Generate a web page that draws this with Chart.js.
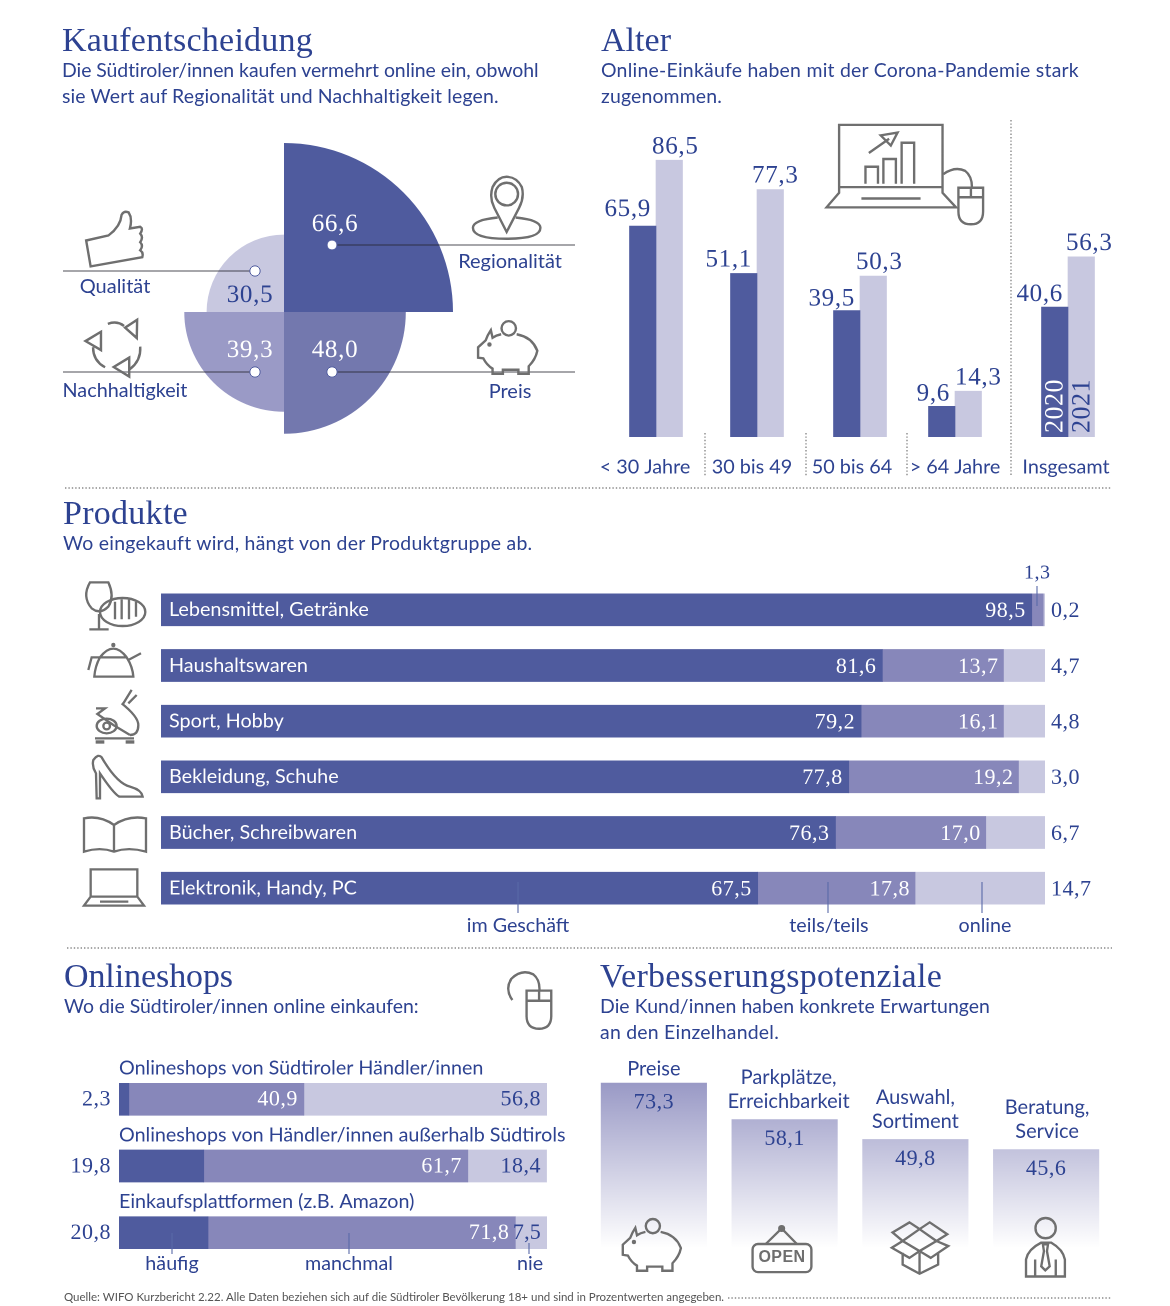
<!DOCTYPE html>
<html lang="de"><head><meta charset="utf-8">
<script src="https://cdn.jsdelivr.net/npm/chart.js@4"></script>
<style>
html,body{margin:0;padding:0;background:#fff}
#page{position:relative;width:1170px;height:1306px;overflow:hidden;background:#fff}
canvas{position:absolute}
#ov{position:absolute;left:0;top:0;width:1170px;height:1306px}
.t{position:absolute;white-space:nowrap;line-height:1;color:#2d4291;font-family:Lato,sans-serif;font-size:20px;transform:translateY(-50%)}
.h{font-family:"Liberation Serif",serif;font-size:34px}
.s{font-size:19.45px}
</style></head><body>
<div id="page">
<svg id="ov" viewBox="0 0 1170 1306" fill="none" stroke="#6f6f6f" stroke-linejoin="miter">
<defs>
<g id="pig" stroke-width="7">
<path d="M1310 622Q1295 625 1285 632L1280 610Q1270 625 1265 640L1243 660L1243 690L1258 692Q1268 712 1285 722L1285 737L1315 737L1315 725L1360 725L1360 737L1390 737L1390 715Q1410 695 1415 670Q1400 630 1355 622"/>
<circle cx="1332" cy="605" r="21"/><circle cx="1276" cy="652" r="3" fill="#6f6f6f"/>
</g>
</defs>
<!-- separators -->
<g stroke="#8a8a8a" stroke-width="1.4" stroke-dasharray="1.4 2">
<path d="M65 488H1112M67 948H1112M728 1298H1112M705 433V477M806 433V477M907 433V477M1011 120V477"/>
</g>
<!-- leader lines -->
<g stroke="rgba(40,40,50,.55)" stroke-width="1.3">
<path d="M332 245H575M63 271H255M63 372H255M332 372H575"/>
</g>
<g fill="#fff" stroke="#4f5b9e" stroke-width="1"><circle cx="332" cy="245" r="5"/><circle cx="255" cy="271" r="5.2"/><circle cx="255" cy="372" r="5.2"/><circle cx="332" cy="372" r="5.2"/></g>
<g stroke="#5a6aa8" stroke-width="1.1"><path d="M1037 586V606M518 882V913M828 882V913M982 882V913M172 1233V1254M349 1233V1254M529 1243V1254"/></g>
<!-- icons Kaufentscheidung -->
<g transform="translate(50,120) scale(.3444)" stroke-width="7">
<path d="M105 350L118 425L268 398Q272 385 262 378Q272 365 262 355Q272 340 262 330Q272 315 262 310L232 315Q240 285 228 268Q215 262 208 275Q205 310 170 335Z"/>
<path d="M253 580L218 603L252 633ZM168 592Q195 582 215 598M148 615L103 642L148 668ZM160 718Q125 700 125 660M230 690L185 717L230 745ZM262 658Q265 700 230 725"/>
<path d="M1326 325L1290 255Q1275 225 1285 195Q1300 165 1326 165Q1355 165 1370 195Q1378 225 1362 255Z"/><circle cx="1326" cy="215" r="33"/>
<path d="M1300 283Q1228 290 1228 313Q1228 345 1326 345Q1424 345 1424 313Q1424 290 1352 283"/>
<use href="#pig"/>
</g>
<!-- icon Alter -->
<g transform="translate(590,110) scale(.338)" stroke-width="7">
<path d="M737 228V44H1043V228ZM737 228V245L700 288H1083L1043 245V228M803 262H978M815 218V168H852V218M868 218V145H905V218M922 218V97H959V218M825 127L885 85M860 75L910 67L890 105Z"/>
<path d="M1045 190Q1080 165 1110 180Q1130 195 1130 228M1090 230H1163V300Q1163 338 1127 338Q1090 338 1090 300ZM1090 258H1163M1127 230V258"/>
</g>
<!-- icons Produkte -->
<g transform="translate(60,560) scale(.3333)" stroke-width="7">
<path d="M90 67H145Q165 110 145 140Q120 165 95 145Q65 110 90 67ZM117 162V208M88 208H146"/><ellipse cx="188" cy="156" rx="68" ry="42"/><path d="M165 125V178M185 118V178M207 118V178M228 125V170"/>
<circle cx="160" cy="255" r="3" fill="#6f6f6f"/><path d="M120 292Q160 240 200 292M120 292H200Q218 320 220 350H103Q105 320 120 292ZM120 292H95L85 330M205 300L243 280"/>
<path d="M108 445H135L112 462L160 495L210 525M185 430Q235 470 235 495Q235 525 210 525M190 430L215 390M205 430L230 405M105 535H222"/><ellipse cx="140" cy="498" rx="30" ry="22"/><circle cx="140" cy="498" r="10"/><rect x="107" y="541" width="26" height="10" fill="#6f6f6f" stroke="none"/><rect x="197" y="541" width="26" height="10" fill="#6f6f6f" stroke="none"/>
<path d="M100 600Q115 580 125 592Q170 670 210 680Q245 690 248 710H178Q160 700 120 640V715H110L108 640Q95 620 100 600Z"/>
<path d="M162 795Q120 765 72 775V875Q120 860 162 875Q205 860 258 875V775Q205 765 162 795V875"/>
<path d="M92 1010V928H232V1010ZM92 1010L72 1037H252L232 1010M120 1025H205"/>
</g>
<!-- mouse Onlineshops -->
<g transform="translate(50,950) scale(.338)" stroke-width="7">
<path d="M1368 148Q1345 115 1365 85Q1395 55 1430 72Q1450 88 1448 120M1410 120H1483V195Q1483 233 1447 233Q1410 233 1410 195ZM1410 150H1483M1447 120V150"/>
</g>
<!-- icons Verbesserung -->
<g transform="translate(590,1050) scale(.338)" stroke-width="7">
<use href="#pig" transform="translate(-1146,-84)"/>
<rect x="481" y="574" width="174" height="83" rx="16"/><path d="M520 574L567 528L612 574"/><circle cx="567" cy="528" r="7" fill="#6f6f6f"/>
<path d="M925 600V635L975 662L1030 635V600M975 600V662M895 540L945 510L975 530L925 565ZM975 530L1005 510L1057 545L1025 565ZM925 565L893 585L945 615L975 595L1008 615L1060 580L1025 565M925 565L975 595L1025 565"/>
<circle cx="1348" cy="527" r="30"/><path d="M1290 670V620Q1295 590 1335 570H1365Q1400 590 1405 620V670ZM1317 620V670M1378 620V670M1340 575H1355L1352 595L1360 640L1347 652L1335 640L1343 595Z"/>
</g>
</svg>
</div>
<script>
/* ---------- data ---------- */
const decisionLabels = ['Regionalität','Preis','Nachhaltigkeit','Qualität'];
const decisionValues = [66.6,48.0,39.3,30.5];
const decisionColors = ['#4f5b9e','#7378ae','#9a9ac6','#c8c8e0'];

const ageLabels = ['< 30 Jahre','30 bis 49','50 bis 64','> 64 Jahre','Insgesamt'];
const age2020 = [65.9,51.1,39.5,9.6,40.6];
const age2021 = [86.5,77.3,50.3,14.3,56.3];

const productLabels = ['Lebensmittel, Getränke','Haushaltswaren','Sport, Hobby','Bekleidung, Schuhe','Bücher, Schreibwaren','Elektronik, Handy, PC'];
const productStore = [98.5,81.6,79.2,77.8,76.3,67.5];
const productMixed = [1.3,13.7,16.1,19.2,17.0,17.8];
const productOnline = [0.2,4.7,4.8,3.0,6.7,14.7];

const shopLabels = ['Onlineshops von Südtiroler Händler/innen','Onlineshops von Händler/innen außerhalb Südtirols','Einkaufsplattformen (z.B. Amazon)'];
const shopOften = [2.3,19.8,20.8];
const shopSometimes = [40.9,61.7,71.8];
const shopNever = [56.8,18.4,7.5];

const improveLabels = [['Preise'],['Parkplätze,','Erreichbarkeit'],['Auswahl,','Sortiment'],['Beratung,','Service']];
const improveValues = [73.3,58.1,49.8,45.6];

/* ---------- helpers ---------- */
const DARK='#4f5b9e', MID='#8787ba', LIGHT='#c8c8e0', BLUE='#2d4291';
const SERIF='"Liberation Serif",serif', SANS='Lato,sans-serif';
const page=document.getElementById('page');
const fmt=v=>v.toFixed(1).replace('.',',');
function T(text,x,y,o={}){
  const d=document.createElement('div');
  d.className='t '+(o.cls||'');
  d.textContent=text;
  d.style.left=x+'px';d.style.top=(y-(o.cls==='h'?0:.5))+'px';
  if(o.center)d.style.transform='translate(-50%,-50%)';
  if(o.size)d.style.fontSize=o.size+'px';
  if(o.color)d.style.color=o.color;
  if(o.spacing!==undefined)d.style.letterSpacing=o.spacing+'px';
  if(o.font)d.style.fontFamily=o.font;
  if(o.weight)d.style.fontWeight=o.weight;
  page.appendChild(d);
  if(o.w){ /* fit the line to the width */
    const now=d.getBoundingClientRect().width;
    d.style.letterSpacing=((o.w-now)/text.length).toFixed(3)+'px';
  }
}
function txt(c,s,x,y,{size=22,fam=SERIF,color=BLUE,align='left',spacing=.5,rot=0}={}){
  c.save();
  c.font=size+'px '+fam;c.fillStyle=color;c.textAlign=align;c.textBaseline='middle';
  c.letterSpacing=spacing+'px';
  c.translate(x,y+(fam===SERIF&&!rot?1.5:0));if(rot)c.rotate(rot);
  c.fillText(s,0,0);c.restore();
}
function mk(left,top,w,h,cfg){
  const cv=document.createElement('canvas');
  cv.style.left=left+'px';cv.style.top=top+'px';
  cv.style.width=w+'px';cv.style.height=h+'px';cv.width=w;cv.height=h;
  page.insertBefore(cv,document.getElementById('ov'));
  cfg.options=Object.assign({responsive:false,animation:false,devicePixelRatio:2,
    plugins:{legend:{display:false},tooltip:{enabled:false}}},cfg.options);
  return new Chart(cv,cfg);
}

/* ---------- Kaufentscheidung (polar) ---------- */
mk(115,143,338,338,{type:'polarArea',
  data:{labels:decisionLabels,datasets:[{data:decisionValues,backgroundColor:decisionColors,borderWidth:0}]},
  options:{scales:{r:{display:false,min:0,max:66.6}}},
  plugins:[{id:'polarLabels',afterDatasetsDraw(ch){
    const m=ch.getDatasetMeta(0),c=ch.ctx;
    const off=[[51,-89,'#fff'],[51,37,'#fff'],[-34,37,'#fff'],[-34,-18,BLUE]];
    m.data.forEach((a,i)=>txt(c,fmt(decisionValues[i]),a.x+off[i][0],a.y+off[i][1],{size:25,align:'center',color:off[i][2],spacing:.7}));
  }}]});

/* ---------- Alter (bars) ---------- */
const ageCenters=[656,756.5,860,954.5,1068];
const ageTickShift=[-11,-5,-8,0,-2];
const age2021Shift=[-1,-2,-1,3,1];
const age2020Lift=[18,15,13,14,14];
ageLabels.forEach((lab,i)=>{
  mk(ageCenters[i]-120,117,240,370,{type:'bar',
    data:{labels:[lab],datasets:[
      {label:'2020',data:[age2020[i]],backgroundColor:DARK,barThickness:26.5},
      {label:'2021',data:[age2021[i]],backgroundColor:LIGHT,barThickness:26.5}]},
    options:{layout:{padding:0},scales:{
      y:{display:false,min:0,max:100},
      x:{grid:{display:false,drawTicks:false},border:{display:false},
         afterFit(s){s.height=50},
         ticks:{color:BLUE,font:{family:'Lato',size:19.8},padding:18,labelOffset:ageTickShift[i],maxRotation:0,autoSkip:false}}}},
    plugins:[{id:'ageLabels',afterDatasetsDraw(ch){
      const c=ch.ctx,a=ch.getDatasetMeta(0).data[0],b=ch.getDatasetMeta(1).data[0];
      txt(c,fmt(age2020[i]),a.x+a.width/2-5,a.y-age2020Lift[i],{size:25,align:'right',spacing:.7});
      txt(c,fmt(age2021[i]),b.x-b.width/2-3+age2021Shift[i],b.y-15,{size:25,align:'left',spacing:.7});
      if(i===4){
        txt(c,ch.data.datasets[0].label,a.x+1,ch.chartArea.bottom-4,{size:26,color:'#fff',rot:-Math.PI/2});
        txt(c,ch.data.datasets[1].label,b.x+1.5,ch.chartArea.bottom-4,{size:26,color:BLUE,rot:-Math.PI/2});
      }
    }}]});
});

/* ---------- Produkte (stacked) ---------- */
mk(60,555,1050,361,{type:'bar',
  data:{labels:productLabels,datasets:[
    {label:'im Geschäft',data:productStore,backgroundColor:DARK},
    {label:'teils/teils',data:productMixed,backgroundColor:MID},
    {label:'online',data:productOnline,backgroundColor:LIGHT}]},
  options:{indexAxis:'y',layout:{padding:{left:101,right:65,top:27,bottom:0}},
    datasets:{bar:{barThickness:32}},
    scales:{x:{display:false,stacked:true,min:0,max:100},y:{display:false,stacked:true}}},
  plugins:[{id:'prodLabels',afterDatasetsDraw(ch){
    const c=ch.ctx,A=ch.chartArea;
    productLabels.forEach((l,i)=>{
      const a=ch.getDatasetMeta(0).data[i],b=ch.getDatasetMeta(1).data[i];
      txt(c,l,A.left+8,a.y,{size:19.8,fam:SANS,color:'#fff',spacing:0});
      txt(c,fmt(productStore[i]),a.x-6,a.y,{color:'#fff',align:'right'});
      if(i===0)txt(c,fmt(productMixed[i]),b.x-6,a.y-38,{size:20,align:'center'});
      else txt(c,fmt(productMixed[i]),b.x-5,b.y,{color:'#fff',align:'right'});
      txt(c,fmt(productOnline[i]),A.right+6,a.y,{size:22});
    });
  }}]});

/* ---------- Onlineshops (stacked) ---------- */
mk(50,1040,540,226,{type:'bar',
  data:{labels:shopLabels,datasets:[
    {label:'häufig',data:shopOften,backgroundColor:DARK},
    {label:'manchmal',data:shopSometimes,backgroundColor:MID},
    {label:'nie',data:shopNever,backgroundColor:LIGHT}]},
  options:{indexAxis:'y',layout:{padding:{left:69,right:43,top:26,bottom:0}},
    datasets:{bar:{barThickness:32}},
    scales:{x:{display:false,stacked:true,min:0,max:100},y:{display:false,stacked:true}}},
  plugins:[{id:'shopLabels',afterDatasetsDraw(ch){
    const c=ch.ctx,A=ch.chartArea;
    shopLabels.forEach((l,i)=>{
      const a=ch.getDatasetMeta(0).data[i],b=ch.getDatasetMeta(1).data[i];
      txt(c,fmt(shopOften[i]),A.left-8,a.y-1,{align:'right'});
      txt(c,fmt(shopSometimes[i]),b.x-6,b.y-1,{color:'#fff',align:'right'});
      txt(c,fmt(shopNever[i]),A.right-6,b.y-1,{align:'right',spacing:i==2?.2:.5});
      txt(c,l,A.left,a.y-31,{size:19.7,fam:SANS,spacing:0});
    });
  }}]});

/* ---------- Verbesserungspotenziale (gradient bars) ---------- */
mk(580,1019,540,240,{type:'bar',
  data:{labels:improveLabels,datasets:[{data:improveValues,barThickness:105.5,
    backgroundColor(ctx){
      const y=ctx.chart.scales.y,c=ctx.chart.ctx;
      if(!ctx.chart.chartArea||!y)return LIGHT;
      const g=c.createLinearGradient(0,y.getPixelForValue(Math.max(...improveValues)),0,y.getPixelForValue(5));
      g.addColorStop(0,'#9a9ac6');g.addColorStop(1,'#ffffff');return g;
    }}]},
  options:{layout:{padding:{left:8.5,right:8.5}},scales:{x:{display:false},y:{display:false,min:0,max:100}}},
  plugins:[{id:'impLabels',afterDatasetsDraw(ch){
    const c=ch.ctx;
    ch.getDatasetMeta(0).data.forEach((b,i)=>{
      txt(c,fmt(improveValues[i]),b.x,b.y+18,{align:'center'});
      const lines=improveLabels[i];
      const base=b.y-(lines.length>1?18:14);
      lines.forEach((s,k)=>txt(c,s,b.x+[0,4,0,1][i],base-(lines.length-1-k)*24,{size:20,fam:SANS,align:'center',spacing:0}));
    });
  }}]});

/* ---------- page text ---------- */
T('Kaufentscheidung',62,40,{cls:'h',w:251});
T('Die Südtiroler/innen kaufen vermehrt online ein, obwohl',62,70,{cls:'s',w:477});
T('sie Wert auf Regionalität und Nachhaltigkeit legen.',62,96,{cls:'s',w:437});
T('Alter',601,40,{cls:'h',w:70});
T('Online-Einkäufe haben mit der Corona-Pandemie stark',601,70,{cls:'s',w:478});
T('zugenommen.',601,96,{cls:'s',w:121});
T('Produkte',63,513,{cls:'h',w:125});
T('Wo eingekauft wird, hängt von der Produktgruppe ab.',63,543,{cls:'s',w:469});
T('Onlineshops',64,976,{cls:'h',w:169});
T('Wo die Südtiroler/innen online einkaufen:',64,1006,{cls:'s',w:355});
T('Verbesserungspotenziale',600,976,{cls:'h',w:342});
T('Die Kund/innen haben konkrete Erwartungen',600,1006,{cls:'s',w:390});
T('an den Einzelhandel.',600,1032,{cls:'s',w:179});
T('Regionalität',510,260,{center:1});
T('Qualität',115,285,{center:1});
T('Nachhaltigkeit',125,390,{center:1,size:19.8});
T('Preis',510,390,{center:1});
T('im Geschäft',518,925,{center:1,size:19.7});
T('teils/teils',829,925,{center:1,size:19.7});
T('online',985,925,{center:1,size:19.7});
T('häufig',172,1263,{center:1,size:19.7});
T('manchmal',349,1263,{center:1,size:19.7});
T('nie',530,1263,{center:1,size:19.7});
T('Quelle: WIFO Kurzbericht 2.22. Alle Daten beziehen sich auf die Südtiroler Bevölkerung 18+ und sind in Prozentwerten angegeben.',64,1297,{size:11.5,color:'#555',spacing:0});
T('OPEN',782,1257,{center:1,size:16,color:'#6f6f6f',weight:'bold',font:'"Liberation Sans",sans-serif',spacing:.4});
</script>
</body></html>
